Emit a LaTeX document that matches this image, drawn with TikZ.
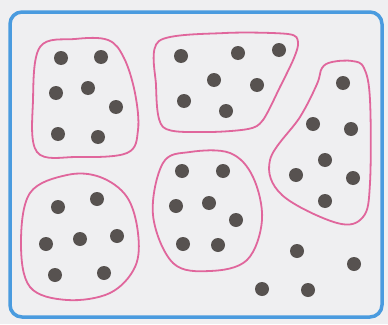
\documentclass[tikz,border=0pt]{standalone}
\usepackage{tikz}
\usetikzlibrary{calc}
\definecolor{pagegray}{HTML}{EFEFF1}
\definecolor{frameblue}{HTML}{4A9BDF}
\definecolor{setpink}{HTML}{E0669C}
\definecolor{dotgray}{HTML}{575250}
\tikzstyle{frame} = [draw=frameblue, line width=3.5pt, rounded corners=12pt]
\tikzstyle{setline} = [draw=setpink, line width=1.8pt]
\tikzstyle{dotnode} = [circle, fill=dotgray, inner sep=0pt, minimum size=14pt]

\begin{document}
\begin{tikzpicture}[x=1pt, y=-1pt]
    \useasboundingbox (0,0) rectangle (388,324);
    \fill [pagegray] (0,0) rectangle (388,324);
    \draw [frame] (10,12) rectangle (382,317);

    % sets
    \draw [setline] plot [smooth cycle, tension=0.6] coordinates {(33,100) (40,47) (75,39) (108,40) (124,58) (135,93) (138,130) (127,153) (77,157) (37,152)};
    \draw [setline] plot [smooth cycle, tension=0.5] coordinates {(156,85) (159,41) (225,33) (288,34) (298,42) (294,58) (280,87) (263,120) (248,129) (205,132) (163,127)};
    \draw [setline] plot [smooth cycle, tension=0.6] coordinates {(322,68) (332,62) (352,61) (364,68) (370,100) (370,183) (363,217) (337,223) (282,195) (270,160) (300,117) (317,84)};
    \draw [setline] plot [smooth cycle, tension=0.6] coordinates {(30,193) (67,175) (100,177) (127,197) (138,233) (135,267) (110,293) (67,300) (30,287) (21,243)};
    \draw [setline] plot [smooth cycle, tension=0.6] coordinates {(163,163) (190,152) (230,153) (253,177) (262,220) (247,260) (210,271) (173,263) (153,215)};

    % elements
    \foreach \x/\y [count=\i] in {61/58, 101/57, 56/93, 88/88, 116/107, 58/134, 98/137}
        \node (a\i) [dotnode] at (\x,\y) {};
    \foreach \x/\y [count=\i] in {181/56, 238/53, 279/50, 214/80, 257/85, 184/101, 226/111}
        \node (b\i) [dotnode] at (\x,\y) {};
    \foreach \x/\y [count=\i] in {343/83, 313/124, 351/129, 325/160, 296/175, 353/178, 325/201}
        \node (c\i) [dotnode] at (\x,\y) {};
    \foreach \x/\y [count=\i] in {58/207, 97/199, 46/244, 80/239, 117/236, 55/275, 104/273}
        \node (d\i) [dotnode] at (\x,\y) {};
    \foreach \x/\y [count=\i] in {182/171, 223/171, 176/206, 209/203, 236/220, 183/244, 218/245}
        \node (e\i) [dotnode] at (\x,\y) {};
    \foreach \x/\y [count=\i] in {297/251, 354/264, 262/289, 308/290}
        \node (f\i) [dotnode] at (\x,\y) {};
\end{tikzpicture}
\end{document}
